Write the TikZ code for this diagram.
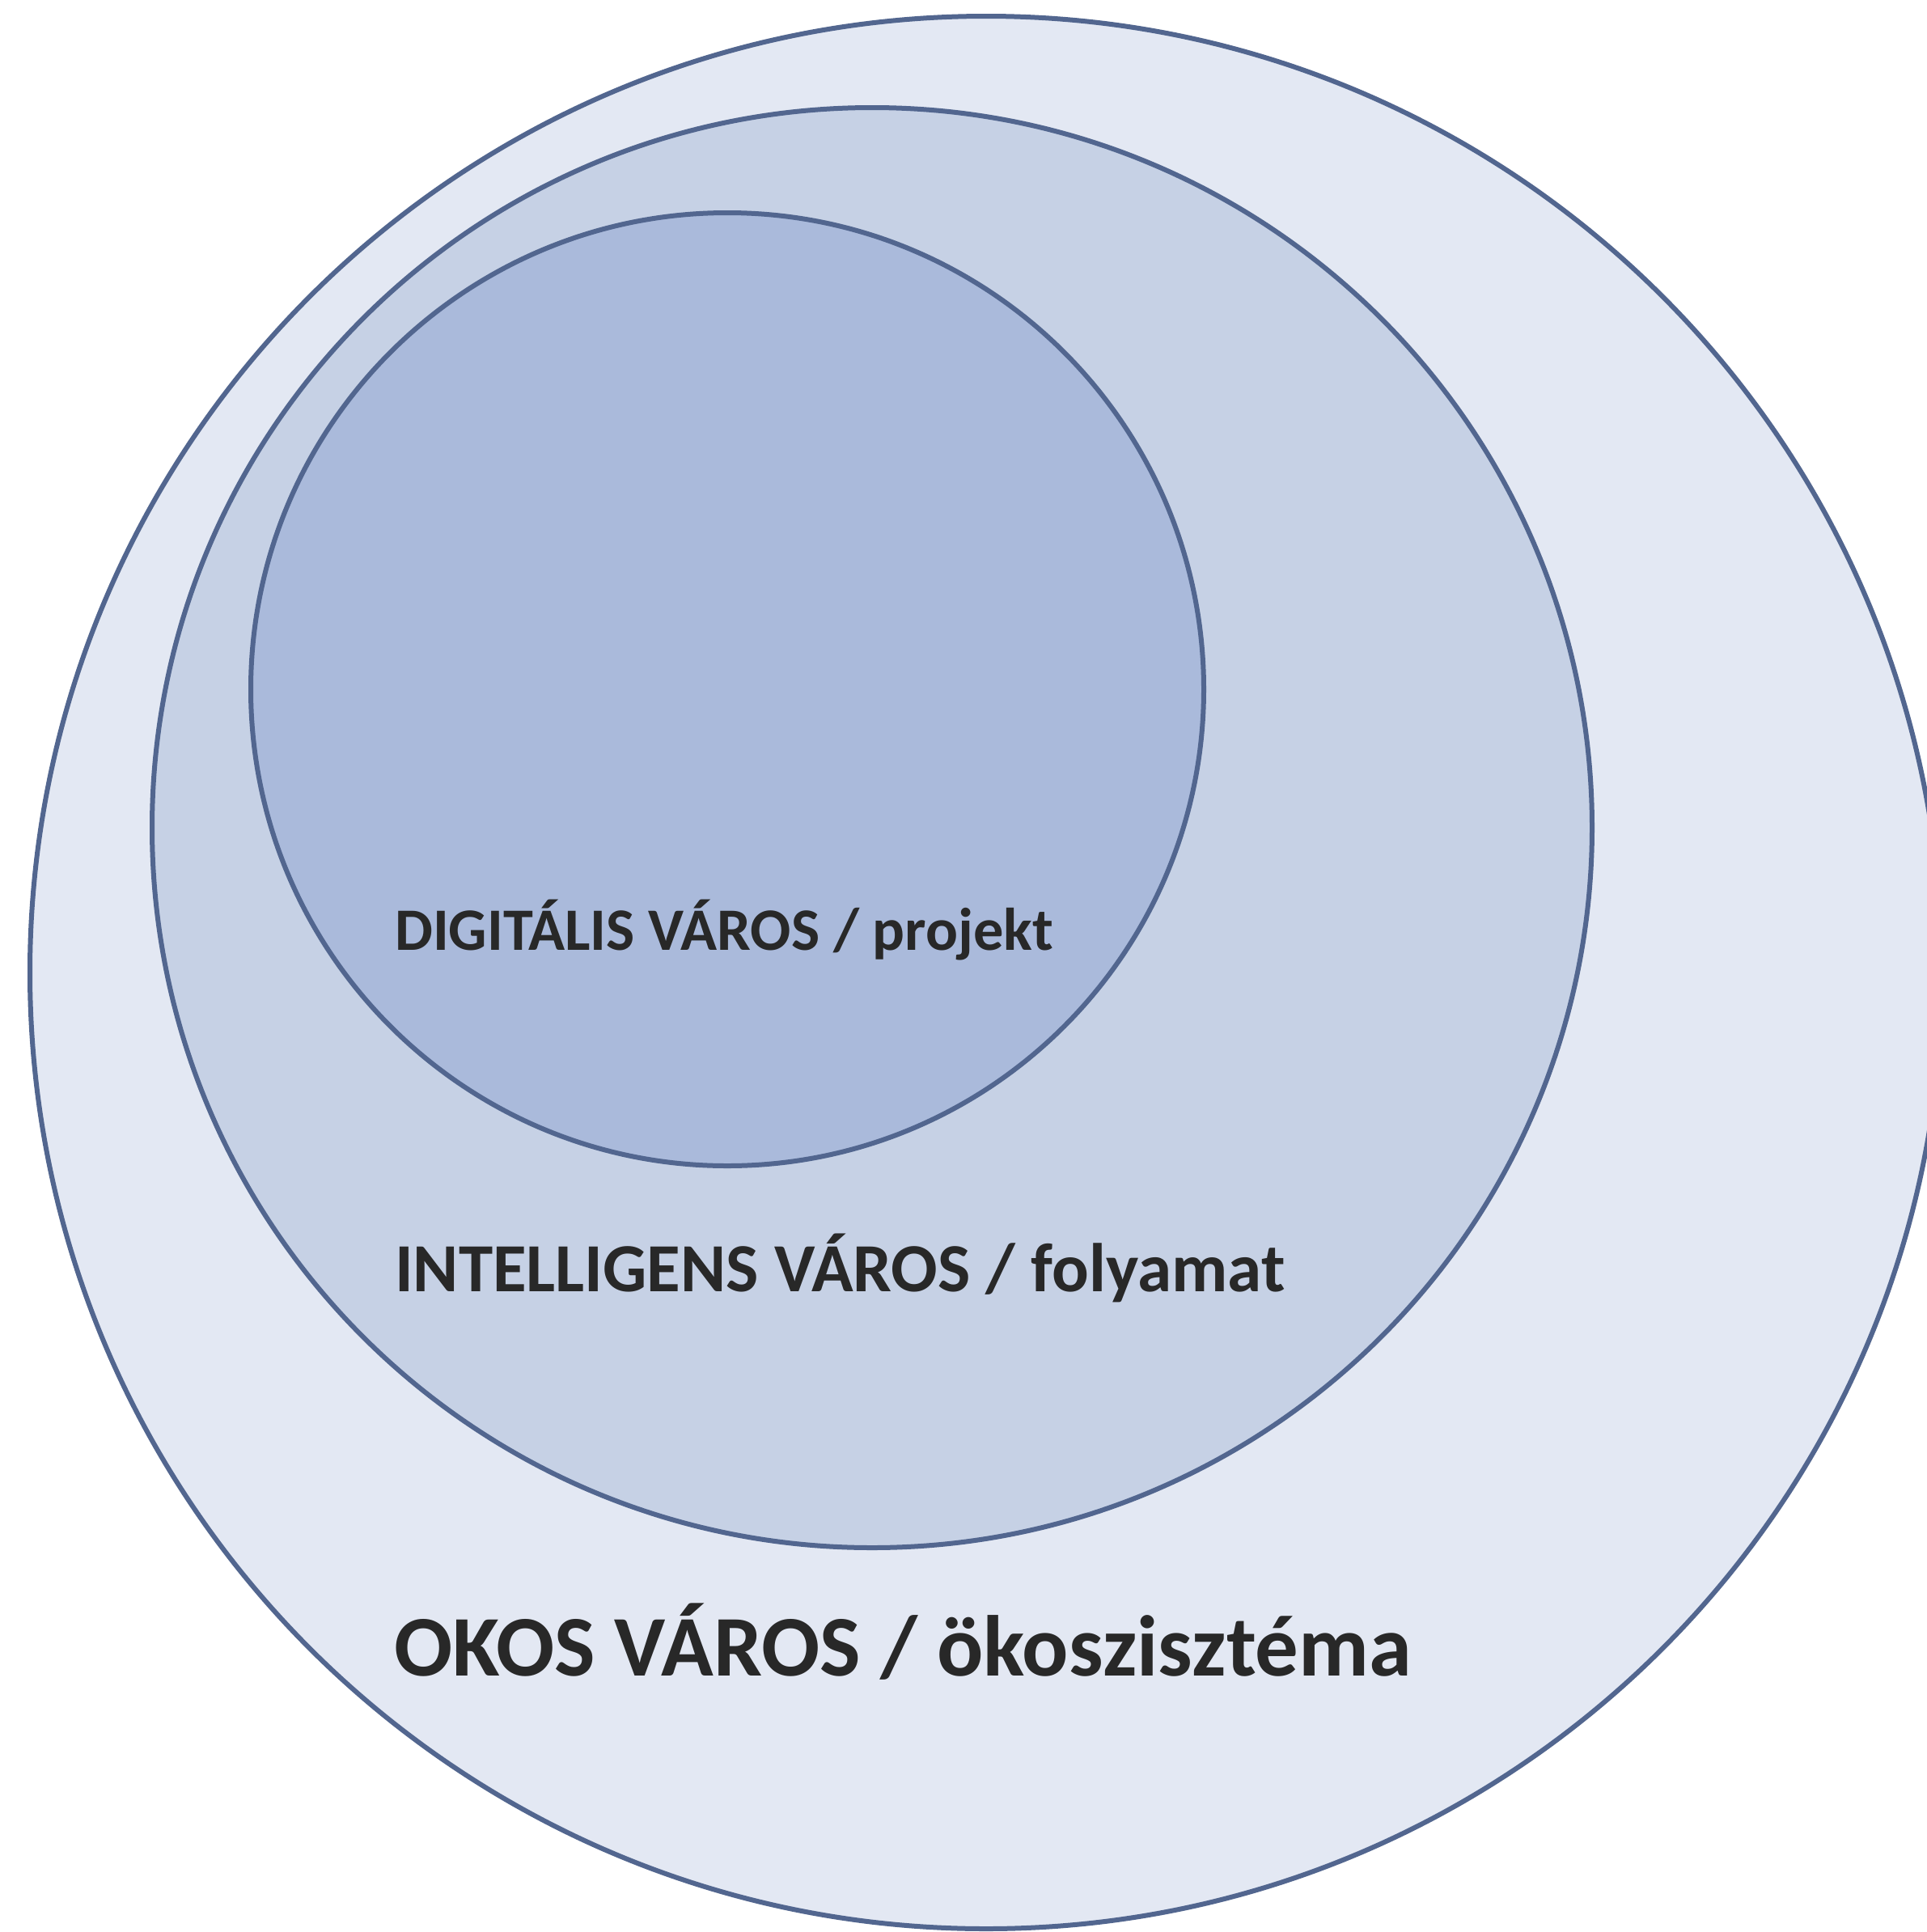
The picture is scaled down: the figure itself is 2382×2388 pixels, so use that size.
\documentclass[tikz,border=0pt]{standalone}
\usepackage{fontspec}
\setmainfont{Carlito}
\definecolor{edge}{HTML}{52668F}
\definecolor{fillA}{HTML}{E3E8F3}
\definecolor{fillB}{HTML}{C6D1E5}
\definecolor{fillC}{HTML}{AABADB}
\definecolor{ink}{HTML}{282828}
\begin{document}
\begin{tikzpicture}[x=1pt,y=-1pt,
  ring/.style={draw=edge,line width=6pt},
  lab/.style={anchor=base west,inner sep=0pt,text=ink,font=\bfseries}]
\useasboundingbox (0,0) rectangle (2382,2388);
\clip (0,0) rectangle (2382,2388);
\fill[white] (0,0) rectangle (2382,2388);
\draw[ring,fill=fillA] (1219,1202) circle[radius=1182];
\draw[ring,fill=fillB] (1078,1023) circle[radius=890];
\draw[ring,fill=fillC] (899,852) circle[radius=589];
\node[lab] (dig) at (488,1174) {\fontsize{74.4}{80}\selectfont DIGITÁLIS VÁROS / projekt};
\node[lab] (int) at (488,1596) {\fontsize{85.2}{92}\selectfont INTELLIGENS VÁROS / folyamat};
\node[lab] (okos) at (487,2071) {\fontsize{106.8}{116}\selectfont OKOS VÁROS / ökoszisztéma};
\end{tikzpicture}
\end{document}
